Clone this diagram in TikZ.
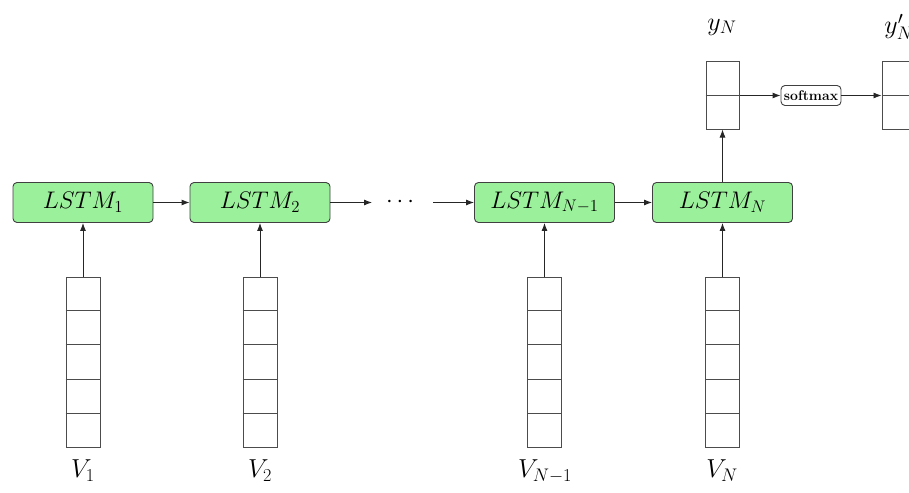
\RequirePackage{fix-cm}
\documentclass[tikz,border=0pt]{standalone}
\usetikzlibrary{arrows.meta,calc}
\definecolor{lstmgreen}{RGB}{155,240,155}
\begin{document}
\begin{tikzpicture}[x=1pt,y=-1pt,
  lstm/.style={draw=black!75, fill=lstmgreen, rounded corners=4pt, minimum width=140pt, minimum height=40pt, line width=0.9pt, font=\fontsize{24}{28}\selectfont, inner sep=0pt},
  vec/.style={draw=black!70, line width=1pt, minimum width=34pt, minimum height=170pt, inner sep=0pt},
  outvec/.style={draw=black!70, line width=1pt, minimum width=33pt, minimum height=67pt, inner sep=0pt},
  cellline/.style={draw=black!70, line width=1pt},
  arr/.style={-{Latex[length=8pt,width=6pt]}, line width=0.9pt, draw=black!85},
  lab/.style={font=\fontsize{26}{30}\selectfont, inner sep=0pt},
  smbox/.style={draw=black!75, rounded corners=4pt, line width=0.9pt, minimum width=60pt, minimum height=20pt, inner sep=1pt, font=\fontsize{14}{16}\selectfont\bfseries}]
\useasboundingbox (0,0) rectangle (909,492);
% LSTM cells
\node[lstm] (l1) at (83,202.5) {$LSTM_1$};
\node[lstm] (l2) at (260,202.5) {$LSTM_2$};
\node[lstm] (l3) at (544.5,202.5) {$LSTM_{N-1}$};
\node[lstm] (l4) at (722.5,202.5) {$LSTM_N$};
% input vectors
\foreach \n/\x in {v1/83, v2/260, v3/544.5, v4/722.5}{
  \node[vec] (\n) at (\x,362) {};
  \foreach \i in {1,...,4}
    \draw[cellline] ($(\n.north west)!\i/5!(\n.south west)$) -- ($(\n.north east)!\i/5!(\n.south east)$);
}
\node[lab] (lv1) at (83,471) {$V_1$};
\node[lab] (lv2) at (260,471) {$V_2$};
\node[lab] (lv3) at (545,471) {$V_{N-1}$};
\node[lab] (lv4) at (722,471) {$V_N$};
% vertical arrows
\draw[arr] (v1.north) -- (l1.south);
\draw[arr] (v2.north) -- (l2.south);
\draw[arr] (v3.north) -- (l3.south);
\draw[arr] (v4.north) -- (l4.south);
% horizontal chain
\draw[arr] (l1.east) -- (l2.west);
\coordinate (d1) at (372,202.5);
\coordinate (d2) at (433,202.5);
\draw[arr] (l2.east) -- (d1);
\node[font=\fontsize{24}{28}\selectfont, inner sep=0pt] (dots) at (400,202.5) {$\cdots$};
\draw[arr] (d2) -- (l3.west);
\draw[arr] (l3.east) -- (l4.west);
% output
\node[outvec] (y) at (722.5,95.5) {};
\draw[cellline] (y.west) -- (y.east);
\node[outvec] (yp) at (898.5,95.5) {};
\draw[cellline] (yp.west) -- (yp.east);
\draw[arr] (l4.north) -- (y.south);
\node[smbox] (sm) at (811,95.5) {softmax};
\draw[arr] (y.east) -- (sm.west);
\draw[arr] (sm.east) -- (yp.west);
\node[lab] (ly) at (722,27) {$y_N$};
\node[lab] (lyp) at (899,27) {$y'_N$};
\end{tikzpicture}
\end{document}
